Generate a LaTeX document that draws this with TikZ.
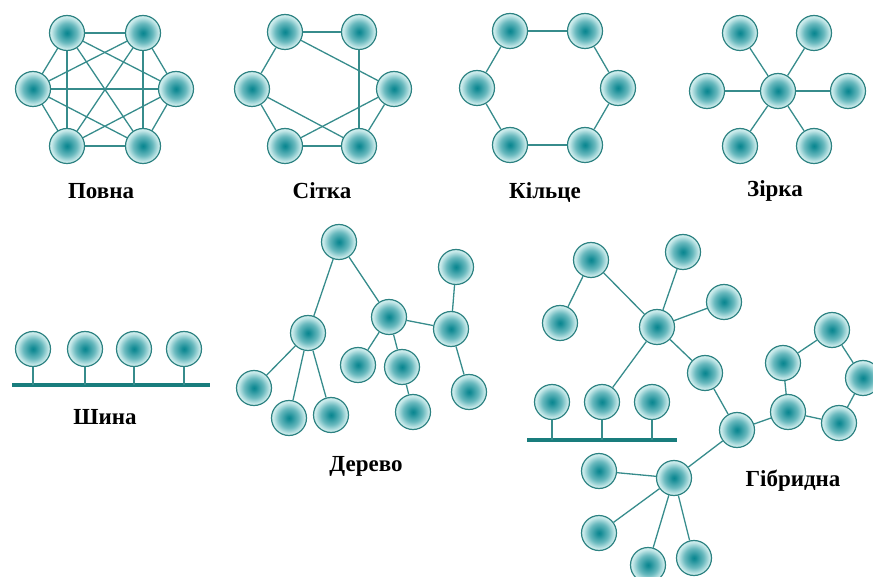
\documentclass[tikz,border=0pt]{standalone}
\usepackage{fontspec}
\setmainfont{Liberation Serif}
\definecolor{ballcore}{RGB}{10,135,145}
\definecolor{ballmid}{RGB}{105,185,190}
\definecolor{ballrim}{RGB}{205,236,236}
\definecolor{ballline}{RGB}{45,130,130}
\definecolor{linkc}{RGB}{55,140,140}
\definecolor{busc}{RGB}{25,125,125}
% the circle edge sits at 25bp of the shading
\pgfdeclareradialshading{ballshade}{\pgfpoint{0bp}{0bp}}{%
  color(0bp)=(ballcore); color(3bp)=(ballcore!94!white);
  color(14bp)=(ballmid); color(23bp)=(ballrim); color(25bp)=(ballrim);
  color(50bp)=(ballrim)}
\tikzset{
  px/.style={x=1pt,y=-1pt},
  ball/.style={circle, minimum size=35pt, inner sep=0pt, draw=ballline,
    line width=1.2pt, shading=ballshade},
  link/.style={draw=linkc, line width=1.3pt},
  bus/.style={draw=busc, line width=3.5pt},
  stem/.style={draw=linkc, line width=1.3pt},
  caption/.style={font=\fontsize{23}{27}\selectfont\bfseries, text=black}
}
\begin{document}
\begin{tikzpicture}[px]
\useasboundingbox (0,0) rectangle (873,577);

% ---- full mesh ----
\foreach \n/\x/\y in {p1/67/33, p2/143/33, p3/33/89, p4/176/89, p5/67/146, p6/143/146}
  \coordinate (\n c) at (\x,\y);
\foreach \a/\b in {p1/p2,p1/p3,p1/p4,p1/p5,p1/p6,p2/p3,p2/p4,p2/p5,p2/p6,
                   p3/p4,p3/p5,p3/p6,p4/p5,p4/p6,p5/p6}
  \draw[link] (\a c) -- (\b c);
\foreach \n in {p1,p2,p3,p4,p5,p6}
  \node[ball] (\n) at (\n c) {};
\node[caption] (lp) at (101,191) {Повна};

% ---- partial mesh ----
\node[ball] (s1) at (285,32) {};
\node[ball] (s2) at (359,32) {};
\node[ball] (s3) at (252,89) {};
\node[ball] (s4) at (394,89) {};
\node[ball] (s5) at (285,146) {};
\node[ball] (s6) at (359,146) {};
\foreach \a/\b in {s1/s2,s1/s3,s1/s4,s2/s6,s3/s5,s3/s6,s4/s5,s4/s6,s5/s6}
  \draw[link] (\a) -- (\b);
\node[caption] (ls) at (322,191) {Сітка};

% ---- ring ----
\node[ball] (k1) at (510,31) {};
\node[ball] (k2) at (585,31) {};
\node[ball] (k3) at (618,88) {};
\node[ball] (k4) at (585,145) {};
\node[ball] (k5) at (510,145) {};
\node[ball] (k6) at (477,88) {};
\foreach \a/\b in {k1/k2,k2/k3,k3/k4,k4/k5,k5/k6,k6/k1}
  \draw[link] (\a) -- (\b);
\node[caption] (lk) at (545,193) {Кільце};

% ---- star ----
\node[ball] (z0) at (778,91) {};
\node[ball] (z1) at (740,33) {};
\node[ball] (z2) at (814,33) {};
\node[ball] (z3) at (707,91) {};
\node[ball] (z4) at (848,91) {};
\node[ball] (z5) at (740,146) {};
\node[ball] (z6) at (814,146) {};
\foreach \b in {z1,z2,z3,z4,z5,z6}
  \draw[link] (z0) -- (\b);
\node[caption] (lz) at (775,191) {Зірка};

% ---- bus ----
\coordinate (b0) at (12,385);
\coordinate (b9) at (210,385);
\draw[bus] (b0) -- (b9);
\foreach \n/\x in {w1/33, w2/85, w3/134, w4/184} {
  \node[ball] (\n) at (\x,349) {};
  \coordinate (\n t) at (\x,385);
  \draw[stem] (\n) -- (\n t);
}
\node[caption] (lw) at (105,417) {Шина};

% ---- tree ----
\node[ball] (t0) at (339,242) {};
\node[ball] (tA) at (308,333) {};
\node[ball] (tB) at (389,317) {};
\node[ball] (tC) at (451,329) {};
\node[ball] (tC1) at (456,267) {};
\node[ball] (tC2) at (469,392) {};
\node[ball] (tA1) at (254,388) {};
\node[ball] (tA2) at (289,418) {};
\node[ball] (tA3) at (331,415) {};
\node[ball] (tB1) at (358,365) {};
\node[ball] (tB2) at (402,367) {};
\node[ball] (tB3) at (413,412) {};
\foreach \a/\b in {t0/tA,t0/tB,tB/tC,tC/tC1,tC/tC2,tA/tA1,tA/tA2,tA/tA3,
                   tB/tB1,tB/tB2,tB2/tB3}
  \draw[link] (\a) -- (\b);
\node[caption] (lt) at (366,466) {Дерево};

% ---- hybrid ----
\node[ball] (h1) at (591,260) {};
\node[ball] (h2) at (683,252) {};
\node[ball] (h3) at (560,323) {};
\node[ball] (hub1) at (657,327) {};
\node[ball] (h4) at (724,302) {};
\node[ball] (h5) at (705,373) {};
\node[ball] (hub2) at (737,430) {};
\node[ball] (r1) at (783,363) {};
\node[ball] (r2) at (832,330) {};
\node[ball] (r3) at (863,378) {};
\node[ball] (r4) at (839,423) {};
\node[ball] (r5) at (788,412) {};
\node[ball] (hub3) at (674,478) {};
\node[ball] (g1) at (599,471) {};
\node[ball] (g2) at (599,533) {};
\node[ball] (g3) at (648,565) {};
\node[ball] (g4) at (694,558) {};
\coordinate (hb0) at (527,440);
\coordinate (hb9) at (677,440);
\draw[bus] (hb0) -- (hb9);
\foreach \n/\x in {q1/552, q2/602, q3/652} {
  \node[ball] (\n) at (\x,402) {};
  \coordinate (\n t) at (\x,440);
  \draw[stem] (\n) -- (\n t);
}
\foreach \a/\b in {hub1/h1,h1/h3,hub1/h2,hub1/h4,hub1/h5,hub1/q2,h5/hub2,
                   hub2/r5,r5/r1,r1/r2,r2/r3,r3/r4,r4/r5,hub2/hub3,
                   hub3/g1,hub3/g2,hub3/g3,hub3/g4}
  \draw[link] (\a) -- (\b);
\node[caption] (lh) at (793,481) {Гібридна};
\end{tikzpicture}
\end{document}
